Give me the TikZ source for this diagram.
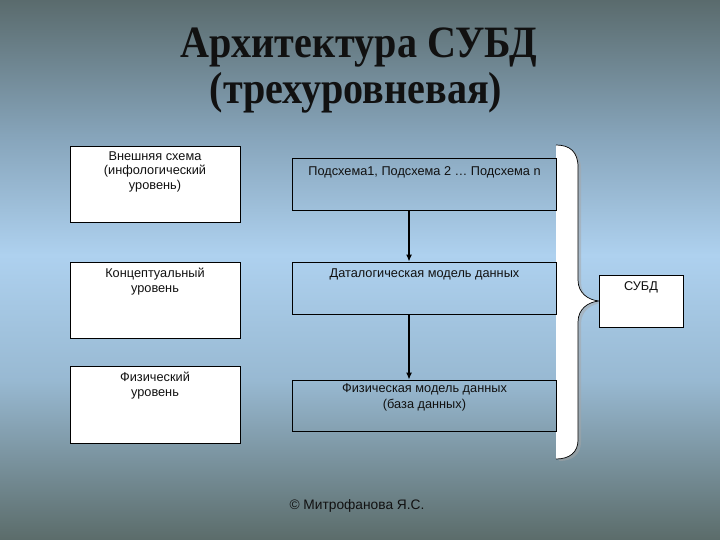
\documentclass[tikz,border=0pt]{standalone}
\usepackage{fontspec}
\setmainfont{Liberation Sans}
\newfontfamily\titlefont{Liberation Serif}
\usetikzlibrary{arrows.meta}
\definecolor{bgA}{HTML}{5A6B6D}
\definecolor{bgB}{HTML}{86A4BA}
\definecolor{bgC}{HTML}{AED1EF}
\definecolor{bgD}{HTML}{98B9D2}
\definecolor{bgE}{HTML}{5B6C6A}
\definecolor{ink}{HTML}{111111}
\begin{document}
\begin{tikzpicture}[x=1bp,y=-1bp,
  lbox/.style={draw=black, line width=0.9bp, fill=white, minimum width=170bp, minimum height=76bp, inner sep=0pt},
  mbox/.style={draw=black, line width=0.9bp, minimum width=264bp, minimum height=52bp, inner sep=0pt},
  txt/.style={font=\fontsize{12.8}{14.5}\selectfont, align=center, text=ink, inner sep=0pt},
  flow/.style={draw=black, line width=1.2bp, -{Latex[length=7bp,width=6bp]}},
  titletxt/.style={font=\titlefont\bfseries\fontsize{45}{46}\selectfont, text=ink, inner sep=0pt, anchor=base, xscale=0.895}
]
\useasboundingbox (0,0) rectangle (720,540);
% background
\shade[top color=bgA, bottom color=bgB] (0,0) rectangle (720,135.5);
\shade[top color=bgB, bottom color=bgC] (0,135) rectangle (720,255.5);
\shade[top color=bgC, bottom color=bgD] (0,255) rectangle (720,380.5);
\shade[top color=bgD, bottom color=bgE] (0,380) rectangle (720,540);
% title
\node[titletxt] (title1) at (359,58) {Архитектура СУБД};
\node[titletxt] (title2) at (356,104) {(трехуровневая)};
% brace
\fill[black!35, opacity=0.5] (559,147) .. controls (573,147) and (581,154) .. (581,169) -- (581,282) .. controls (581,295) and (591,302) .. (602,303) .. controls (591,304) and (581,311) .. (581,324) -- (581,442) .. controls (581,454) and (573,461) .. (559,461) -- cycle;
\fill[white] (556,145) .. controls (570,145) and (578,152) .. (578,167) -- (578,280) .. controls (578,293) and (588,300) .. (599,301) .. controls (588,302) and (578,309) .. (578,322) -- (578,440) .. controls (578,452) and (570,459) .. (556,459) -- cycle;
\draw[black, line width=0.7bp] (556,145) .. controls (570,145) and (578,152) .. (578,167) -- (578,280) .. controls (578,293) and (588,300) .. (599,301) .. controls (588,302) and (578,309) .. (578,322) -- (578,440) .. controls (578,452) and (570,459) .. (556,459);
% left boxes
\node[lbox] (l1) at (155,184) {};
\node[lbox] (l2) at (155,300) {};
\node[lbox, minimum height=77bp] (l3) at (155,404.5) {};
\node[txt] (t1) at (155,171.5) {Внешняя схема\\(инфологический\\уровень)};
\node[txt, font=\fontsize{12.8}{15}\selectfont] (t2) at (155,281.5) {Концептуальный\\уровень};
\node[txt, font=\fontsize{12.8}{15}\selectfont] (t3) at (155,385.5) {Физический\\уровень};
% middle boxes
\node[mbox] (ma) at (424.5,184) {};
\node[mbox] (mb) at (424.5,288) {};
\node[mbox, minimum height=51bp] (mc) at (424.5,405.5) {};
\node[txt] (ta) at (424.5,172) {Подсхема1, Подсхема 2 … Подсхема n};
\node[txt] (tb) at (424.5,274) {Даталогическая модель данных};
\node[txt, font=\fontsize{12.8}{16}\selectfont] (tc) at (424.5,397) {Физическая модель данных\\(база данных)};
\coordinate (axis) at (409,0);
\draw[flow] (ma.south -| axis) -- (mb.north -| axis);
\draw[flow] (mb.south -| axis) -- (mc.north -| axis);
% DBMS box
\node[draw=black, line width=0.9bp, fill=white, minimum width=84bp, minimum height=52bp, inner sep=0pt] (dbms) at (641,301) {};
\node[txt] (tdbms) at (641,287) {СУБД};
% footer
\node[txt, font=\fontsize{13.8}{15}\selectfont, anchor=base] (copy) at (357,509.5) {© Митрофанова Я.С.};
\end{tikzpicture}
\end{document}
